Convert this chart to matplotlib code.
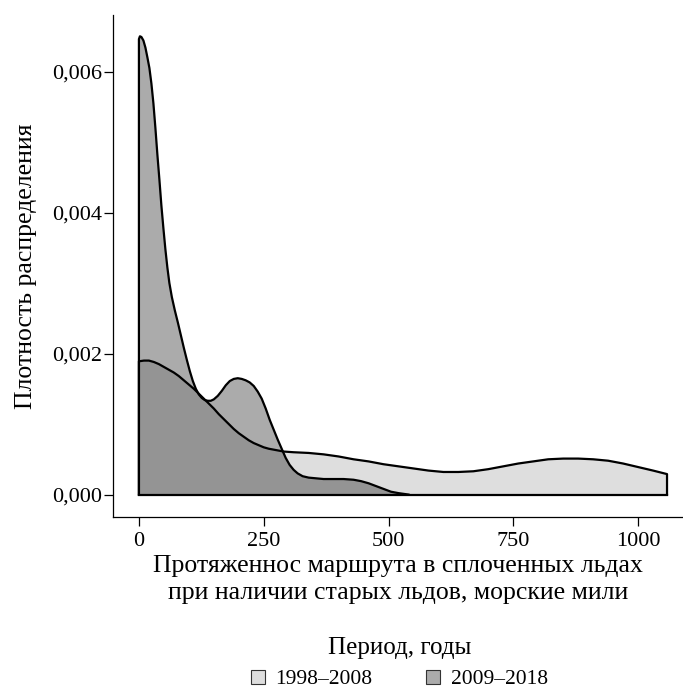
import matplotlib
matplotlib.use("Agg")
import matplotlib.pyplot as plt
from matplotlib.patches import Patch
from matplotlib.ticker import FuncFormatter

plt.rcParams['font.family'] = ['Liberation Serif', 'DejaVu Serif']

# density, 1998-2008
x_old = [0, 0, 10, 20, 30, 40, 50, 60, 70, 80, 90, 100, 110, 120, 130, 140, 150, 160, 170,
         180, 190, 200, 210, 220, 230, 240, 250, 260, 275, 290, 310, 340, 370, 400, 430, 460,
         490, 520, 550, 580, 610, 640, 670, 700, 730, 760, 790, 820, 850, 880, 910, 940, 970,
         1000, 1030, 1058, 1058]
y_old = [0, 0.00189, 0.00190, 0.00190, 0.00188, 0.00185, 0.00181, 0.00177, 0.00173, 0.00168,
         0.00162, 0.00156, 0.00150, 0.00143, 0.00136, 0.00129, 0.00122, 0.00114, 0.00107,
         0.00100, 0.00093, 0.00087, 0.00082, 0.00077, 0.00073, 0.00070, 0.00067, 0.00065,
         0.00063, 0.00061, 0.00060, 0.00059, 0.00057, 0.00054, 0.00050, 0.00047, 0.00043,
         0.00040, 0.00037, 0.00034, 0.00032, 0.00032, 0.00033, 0.00036, 0.00040, 0.00044,
         0.00047, 0.00050, 0.00051, 0.00051, 0.00050, 0.00048, 0.00044, 0.00039, 0.00034,
         0.00029, 0]

# density, 2009-2018
x_new = [0, 0, 2, 5, 9, 13, 17, 21, 25, 29, 33, 37, 41, 45, 49, 53, 57, 61, 66, 72, 78, 84,
         90, 96, 102, 108, 114, 120, 126, 132, 138, 144, 150, 158, 166, 174, 182, 190, 198,
         206, 214, 222, 230, 238, 246, 254, 262, 270, 278, 286, 294, 302, 310, 318, 328, 340,
         355, 370, 390, 410, 430, 445, 460, 475, 490, 505, 520, 540]
y_new = [0, 0.00646, 0.00650, 0.00649, 0.00644, 0.00634, 0.00620, 0.00605, 0.00583, 0.00555,
         0.00520, 0.00482, 0.00447, 0.00410, 0.00378, 0.00348, 0.00322, 0.00300, 0.00280,
         0.00261, 0.00244, 0.00226, 0.00208, 0.00191, 0.00175, 0.00161, 0.00150, 0.00142,
         0.00137, 0.00134, 0.00133, 0.00133, 0.00135, 0.00140, 0.00147, 0.00155, 0.00161,
         0.00164, 0.00165, 0.00164, 0.00162, 0.00159, 0.00154, 0.00146, 0.00136, 0.00122,
         0.00106, 0.00092, 0.00078, 0.00065, 0.00052, 0.00042, 0.00035, 0.00030, 0.00026,
         0.00024, 0.00023, 0.00022, 0.00022, 0.00022, 0.00021, 0.00019, 0.00016, 0.00012,
         0.00008, 0.00004, 0.00002, 0]

labels = ['1998–2008', '2009–2018']
x_ticks = [0, 250, 500, 750, 1000]
y_ticks = [0, 0.002, 0.004, 0.006]

fig = plt.figure(figsize=(6.83, 6.88), dpi=100)
ax = fig.add_axes([0.1654, 0.2485, 0.8346, 0.7295])

light = '#dedede'
dark = (0, 0, 0, 0.33)

ax.fill(x_old, y_old, color=light, lw=0)
ax.fill(x_new, y_new, color=dark, lw=0)
ax.plot(x_old, y_old, color='black', lw=1.6, solid_joinstyle='round')
ax.plot(x_new, y_new, color='black', lw=1.6, solid_joinstyle='round')
ax.plot([0, 1058], [0, 0], color='black', lw=1.6)

ax.set_xlim(-52, 1090)
ax.set_ylim(-0.000319, 0.0068)
ax.set_xticks(x_ticks)
ax.set_yticks(y_ticks)
ax.yaxis.set_major_formatter(FuncFormatter(lambda v, p: f'{v:.3f}'.replace('.', ',')))

for s in ['top', 'right']:
    ax.spines[s].set_visible(False)
for s in ['left', 'bottom']:
    ax.spines[s].set_linewidth(0.9)
ax.tick_params(direction='out', length=6.5, width=0.9, labelsize=16)
ax.tick_params(axis='x', pad=4)
ax.tick_params(axis='y', pad=1.5)

ax.set_xlabel('Протяженнос маршрута в сплоченных льдах\nпри наличии старых льдов, морские мили',
              fontsize=18.5, labelpad=3, linespacing=1.3)
ax.set_ylabel('Плотность распределения', fontsize=18.5, labelpad=11)

handles = [Patch(facecolor=light, edgecolor='#333333', lw=0.8),
           Patch(facecolor=dark, edgecolor='#333333', lw=0.8)]
fig.legend(handles, labels, title='Период, годы', loc='lower center', ncol=2,
           bbox_to_anchor=(0.585, -0.03), frameon=False, fontsize=15.5, title_fontsize=18,
           handlelength=0.65, handleheight=0.65, handletextpad=0.5, columnspacing=2.5)

plt.savefig('out.png', dpi=100)
plt.close()
